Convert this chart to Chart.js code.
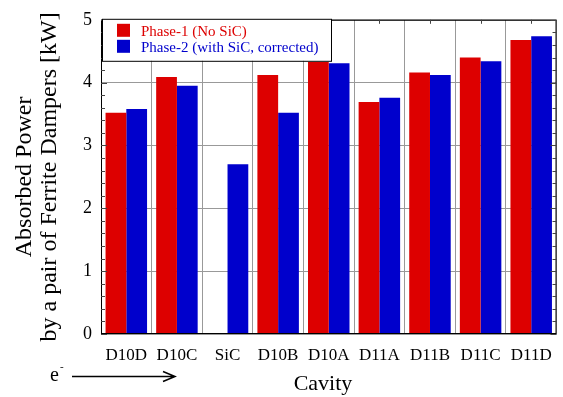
<!DOCTYPE html>
<html lang="en">
<head>
<meta charset="UTF-8">
<title>Absorbed Power by Cavity</title>
<script src="https://cdn.jsdelivr.net/npm/chart.js@4"></script>
<style>
  html, body { margin: 0; padding: 0; background: #fff; }
</style>
</head>
<body>
<canvas id="chart" width="563" height="397"></canvas>
<script>
// values
const cavities = ['D10D', 'D10C', 'SiC', 'D10B', 'D10A', 'D11A', 'D11B', 'D11C', 'D11D'];
const phase1 = [3.52, 4.09, null, 4.12, 4.33, 3.69, 4.16, 4.40, 4.68];
const phase2 = [3.58, 3.95, 2.70, 3.52, 4.31, 3.76, 4.12, 4.34, 4.74];
const seriesNames = ['Phase-1 (No SiC)', 'Phase-2 (with SiC, corrected)'];
const seriesColors = ['#dd0000', '#0000cc'];
const yMin = 0, yMax = 5, yStep = 1, yMinorStep = 0.2;
const xTitle = 'Cavity';

const serif = '"Liberation Serif", "Times New Roman", serif';

// frame, inner ticks, legend box, x title and the e- arrow
const decorations = {
    id: 'decorations',
    afterDraw(chart) {
        const ctx = chart.ctx;
        const a = chart.chartArea;
        const y = chart.scales.y;
        const x = chart.scales.x;
        ctx.save();

        // frame
        ctx.strokeStyle = '#000';
        ctx.lineWidth = 1;
        ctx.strokeRect(a.left + 0.5, a.top + 0.5, a.right - a.left - 1, a.bottom - a.top - 1);

        // minor / major ticks on left and right
        ctx.strokeStyle = '#444';
        for (let v = yMin; v <= yMax + 1e-9; v += yMinorStep) {
            const py = Math.round(y.getPixelForValue(v)) + 0.5;
            const major = Math.abs(v - Math.round(v)) < 1e-6;
            const len = major ? 6 : 4;
            ctx.beginPath();
            ctx.moveTo(a.left, py); ctx.lineTo(a.left + len, py);
            ctx.moveTo(a.right, py); ctx.lineTo(a.right - len, py);
            ctx.stroke();
        }
        // ticks on top at category centres
        cavities.forEach((c, i) => {
            const px = Math.round(x.getPixelForValue(i)) + 0.5;
            ctx.beginPath();
            ctx.moveTo(px, a.top); ctx.lineTo(px, a.top + 4);
            ctx.stroke();
        });

        // legend
        const lx = a.left + 1, ly = a.top - 1, lw = 229, lh = 42;
        ctx.fillStyle = '#fff';
        ctx.fillRect(lx, ly, lw, lh);
        ctx.strokeStyle = '#000';
        ctx.strokeRect(lx + 0.5, ly + 0.5, lw, lh);
        ctx.font = '15px ' + serif;
        ctx.textBaseline = 'alphabetic';
        ctx.textAlign = 'left';
        seriesNames.forEach((name, i) => {
            const rowY = ly + 5 + i * 16;
            ctx.fillStyle = seriesColors[i];
            ctx.fillRect(lx + 15, rowY, 13, 13);
            ctx.fillText(name, lx + 39, rowY + 12);
        });

        // x axis title (sits a little left of the plot centre in the original)
        ctx.fillStyle = '#000';
        ctx.font = '22px ' + serif;
        ctx.textAlign = 'center';
        ctx.fillText(xTitle, 323, 390);

        // electron direction arrow
        ctx.textAlign = 'left';
        ctx.strokeStyle = '#000';
        ctx.font = '20px ' + serif;
        ctx.fillText('e', 50, 381);
        ctx.font = '11px ' + serif;
        ctx.fillText('-', 60, 370);
        ctx.lineWidth = 1.5;
        ctx.beginPath();
        ctx.moveTo(72, 376.5); ctx.lineTo(175, 376.5);
        ctx.moveTo(163, 371.5); ctx.lineTo(175, 376.5); ctx.lineTo(163, 381.5);
        ctx.stroke();

        ctx.restore();
    }
};

const ctx = document.getElementById('chart').getContext('2d');
const chart = new Chart(ctx, {
    type: 'bar',
    data: {
        labels: cavities,
        datasets: [{
            label: seriesNames[0],
            data: phase1,
            backgroundColor: seriesColors[0],
            borderWidth: 0
        }, {
            label: seriesNames[1],
            data: phase2,
            backgroundColor: seriesColors[1],
            borderWidth: 0
        }]
    },
    options: {
        responsive: false,
        animation: false,
        devicePixelRatio: 1,
        layout: { padding: { top: 13, right: 6, left: 0, bottom: 0 } },
        datasets: { bar: { categoryPercentage: 0.82, barPercentage: 1.0 } },
        plugins: {
            legend: { display: false },
            tooltip: { enabled: false }
        },
        scales: {
            x: {
                afterFit(scale) { scale.height = 63; },
                grid: { offset: true, color: '#999', drawTicks: false },
                border: { display: false },
                ticks: { color: '#000', padding: 11, font: { family: serif, size: 17 } }
            },
            y: {
                min: yMin, max: yMax,
                afterFit(scale) { scale.width = 101; },
                grid: { color: '#999', drawTicks: false },
                border: { display: false },
                ticks: { stepSize: yStep, color: '#000', padding: 9, font: { family: serif, size: 18 } },
                title: {
                    display: true, text: ['Absorbed Power', 'by a pair of Ferrite Dampers [kW]'], color: '#000',
                    font: { family: serif, size: 24, lineHeight: 1.05 },
                    padding: { top: 12, bottom: 0 }
                }
            }
        }
    },
    plugins: [decorations]
});
</script>
</body>
</html>
